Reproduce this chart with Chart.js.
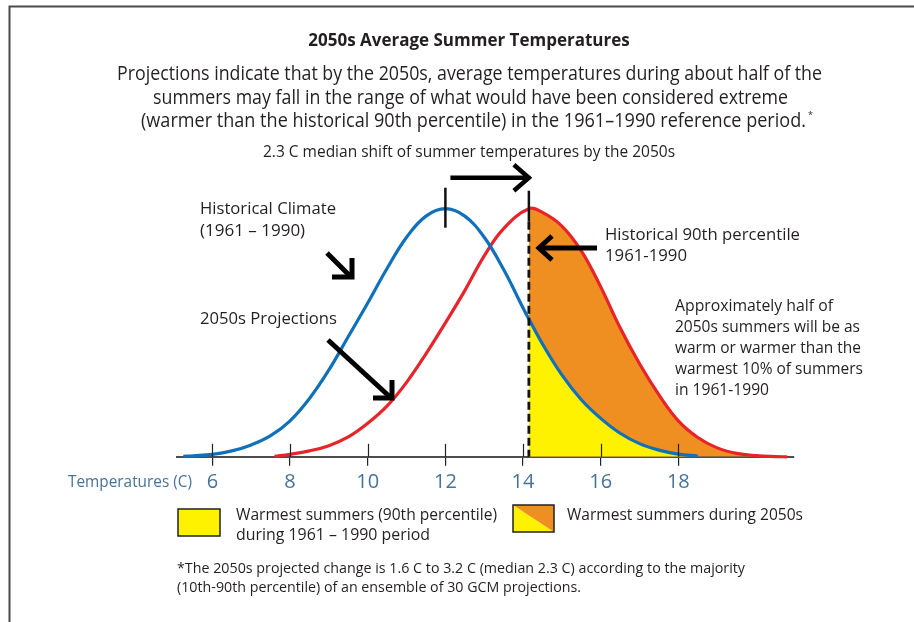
<!DOCTYPE html>
<html>
<head>
<meta charset="utf-8">
<script src="https://cdn.jsdelivr.net/npm/chart.js"></script>
<style>
  html, body { margin: 0; padding: 0; background: #fff; }
  canvas { display: block; }
</style>
</head>
<body>
<canvas id="summerChart" width="914" height="622"></canvas>
<script>
// values, curve height in % of the peak
var histTemps = [5.25, 5.5, 6, 6.5, 7, 7.5, 8, 8.5, 9, 9.5, 10, 10.5, 11, 11.5, 12, 12.5, 13, 13.5, 14, 14.15, 14.5, 15, 15.5, 16, 16.5, 17, 17.5, 18, 18.5];
var histShare = [0.2, 0.4, 1.0, 2.4, 4.8, 8.5, 14.5, 23.5, 35, 48.5, 62, 76, 88.5, 97, 100, 97, 88.5, 75.5, 60, 55.5, 45.5, 33, 23, 15.5, 9.5, 5.3, 2.7, 1.1, 0.3];
var projTemps = [7.6, 8, 8.5, 9, 9.5, 10, 10.5, 11, 11.5, 12, 12.5, 13, 13.5, 14.15, 14.5, 15, 15.5, 16, 16.5, 17, 17.5, 18, 18.5, 19, 19.5, 20, 20.5, 20.8];
var projShare = [0.2, 1.0, 2.4, 4.5, 8, 13.5, 20.5, 30, 41.5, 54, 67, 81, 92, 100, 98.5, 93, 83, 68.5, 52, 37.5, 25, 14.5, 7.8, 3.6, 1.4, 0.5, 0.1, 0];
var tempTicks = [6, 8, 10, 12, 14, 16, 18];
var histMedian = 12;
var projMedian = 14.15;
var hist90th = 14.15;

var BLUE = '#1070ba';
var RED = '#e8242b';
var ORANGE = '#ef8f22';
var YELLOW = '#fff200';
var INK = '#231f20';
var AXISBLUE = '#46739a';
var FONT = '"Open Sans", "Noto Sans", sans-serif';

function toPoints(xs, ys) {
  return xs.map(function (x, i) { return { x: x, y: ys[i] }; });
}

function fillFrom(cut, color) {
  return function (c) { return c.p0.parsed.x >= cut - 0.001 ? color : 'rgba(0,0,0,0)'; };
}

function txt(ctx, s, x, y, font, w, align, color) {
  ctx.save();
  ctx.font = font;
  ctx.fillStyle = color || INK;
  ctx.textAlign = align || 'left';
  ctx.textBaseline = 'middle';
  if (w) ctx.fillText(s, x, y, w); else ctx.fillText(s, x, y);
  ctx.restore();
}

function stroke(ctx, pts, width, color, dash) {
  ctx.save();
  ctx.beginPath();
  ctx.moveTo(pts[0][0], pts[0][1]);
  for (var i = 1; i < pts.length; i++) ctx.lineTo(pts[i][0], pts[i][1]);
  ctx.lineWidth = width;
  ctx.strokeStyle = color || '#000';
  ctx.lineJoin = 'miter';
  if (dash) ctx.setLineDash(dash);
  ctx.stroke();
  ctx.restore();
}

var decor = {
  id: 'decor',
  afterDatasetsDraw: function (chart) {
    var ctx = chart.ctx;
    var xs = chart.scales.x, ys = chart.scales.y;
    var base = ys.getPixelForValue(0);
    var peak = ys.getPixelForValue(100);
    // upper half of the axis ticks
    xs.ticks.forEach(function (t) {
      var px = Math.round(xs.getPixelForValue(t.value)) + 0.5;
      stroke(ctx, [[px, base - 13], [px, base]], 1.2, '#222');
    });
    // median markers and 90th percentile line
    var bx = xs.getPixelForValue(histMedian);
    stroke(ctx, [[bx, peak - 21], [bx, peak + 19]], 2.5, '#111');
    var rx = xs.getPixelForValue(hist90th);
    stroke(ctx, [[rx, peak - 18], [rx, peak + 13]], 2.5, '#111');
    stroke(ctx, [[rx, peak + 13], [rx, base]], 2.8, '#111', [8, 4]);
    // shift arrow
    var ax = xs.getPixelForValue(projMedian);
    stroke(ctx, [[bx + 5, peak - 31], [ax - 2, peak - 31]], 4.5, '#000');
    stroke(ctx, [[ax - 15, peak - 44], [ax, peak - 31], [ax - 15, peak - 18]], 4.5, '#000');
  },
  afterDraw: function (chart) {
    var ctx = chart.ctx;
    // frame
    stroke(ctx, [[9.5, 622], [9.5, 6.5], [914, 6.5]], 2, '#4a4a4a');

    txt(ctx, '2050s Average Summer Temperatures', 469, 41, 'bold 17px ' + FONT, 335, 'center');
    txt(ctx, 'Projections indicate that by the 2050s, average temperatures during about half of the', 469.5, 74, '19.5px ' + FONT, 705, 'center');
    txt(ctx, 'summers may fall in the range of what would have been considered extreme', 470.5, 98, '19.5px ' + FONT, 635, 'center');
    txt(ctx, '(warmer than the historical 90th percentile) in the 1961\u20131990 reference period.', 141, 121, '19.5px ' + FONT, 665);
    txt(ctx, '*', 808, 115, '9px ' + FONT);
    txt(ctx, '2.3 C median shift of summer temperatures by the 2050s', 469, 153, '15.5px ' + FONT, 424, 'center');

    txt(ctx, 'Historical Climate', 200, 209, '17px ' + FONT, 136);
    txt(ctx, '(1961 \u2013 1990)', 200, 231, '17px ' + FONT, 106);
    txt(ctx, '2050s Projections', 200, 319, '17px ' + FONT, 137);
    txt(ctx, 'Historical 90th percentile', 605, 235, '17px ' + FONT, 195);
    txt(ctx, '1961-1990', 605, 256, '17px ' + FONT, 82);

    var block = ['Approximately half of', '2050s summers will be as', 'warm or warmer than the', 'warmest 10% of summers', 'in 1961-1990'];
    var blockW = [158, 185, 186, 188, 94];
    block.forEach(function (s, i) {
      txt(ctx, s, 675, 306 + i * 21, '16px ' + FONT, blockW[i]);
    });

    // arrows
    stroke(ctx, [[327, 253], [350, 276]], 5, '#000');
    stroke(ctx, [[332, 277], [352, 277], [352, 258]], 5, '#000');
    stroke(ctx, [[328, 340], [390, 397]], 5, '#000');
    stroke(ctx, [[373, 398], [392, 398], [392, 380]], 5, '#000');
    stroke(ctx, [[597, 248], [540, 248]], 5, '#000');
    stroke(ctx, [[552, 236], [539, 248], [552, 260]], 5, '#000');

    txt(ctx, 'Temperatures (C)', 192, 482, '16px ' + FONT, 124, 'right', AXISBLUE);

    // legend
    ctx.save();
    ctx.fillStyle = YELLOW;
    ctx.fillRect(178, 509, 42, 27);
    ctx.lineWidth = 1.5;
    ctx.strokeStyle = '#222';
    ctx.strokeRect(178, 509, 42, 27);
    ctx.beginPath();
    ctx.moveTo(513, 505); ctx.lineTo(554, 532); ctx.lineTo(513, 532); ctx.closePath();
    ctx.fill();
    ctx.fillStyle = ORANGE;
    ctx.beginPath();
    ctx.moveTo(513, 505); ctx.lineTo(554, 505); ctx.lineTo(554, 532); ctx.closePath();
    ctx.fill();
    ctx.strokeRect(513, 505, 41, 27);
    ctx.restore();
    txt(ctx, 'Warmest summers (90th percentile)', 236, 515, '16.5px ' + FONT, 261);
    txt(ctx, 'during 1961 \u2013 1990 period', 236, 535, '16.5px ' + FONT, 194);
    txt(ctx, 'Warmest summers during 2050s', 567, 515, '16.5px ' + FONT, 236);

    txt(ctx, '*The 2050s projected change is 1.6 C to 3.2 C (median 2.3 C) according to the majority', 177, 569, '14.5px ' + FONT, 568);
    txt(ctx, '(10th-90th percentile) of an ensemble of 30 GCM projections.', 177, 588, '14.5px ' + FONT, 404);
  }
};

var chart = new Chart(document.getElementById('summerChart').getContext('2d'), {
  type: 'line',
  data: {
    datasets: [
      { label: '1961-1990', data: toPoints(histTemps, histShare),
        borderColor: BLUE, borderWidth: 3.2, pointRadius: 0, fill: 'origin',
        backgroundColor: YELLOW, tension: 0.4, clip: false,
        segment: { backgroundColor: fillFrom(hist90th, YELLOW) } },
      { label: '2050s', data: toPoints(projTemps, projShare),
        borderColor: RED, borderWidth: 3.2, pointRadius: 0, fill: 'origin',
        backgroundColor: ORANGE, tension: 0.4, clip: false,
        segment: { backgroundColor: fillFrom(hist90th, ORANGE) } }
    ]
  },
  options: {
    responsive: false,
    animation: false,
    devicePixelRatio: 1,
    layout: { padding: { left: 176.7, right: 120.7, top: 140, bottom: 123 } },
    plugins: { legend: { display: false }, tooltip: { enabled: false }, title: { display: false } },
    scales: {
      x: {
        type: 'linear', min: 5.08, max: 20.96,
        afterBuildTicks: function (axis) { axis.ticks = tempTicks.map(function (v) { return { value: v }; }); },
        grid: { drawOnChartArea: false, drawTicks: true, tickLength: 9, color: '#222', lineWidth: 1.2 },
        border: { display: true, color: '#4d4d4d', width: 2 },
        ticks: { autoSkip: false, maxRotation: 0, padding: 4.6, color: AXISBLUE,
                 font: { family: FONT, size: 20 } }
      },
      y: { display: false, min: 0, max: 127.7 }
    }
  },
  plugins: [decor]
});
</script>
</body>
</html>
